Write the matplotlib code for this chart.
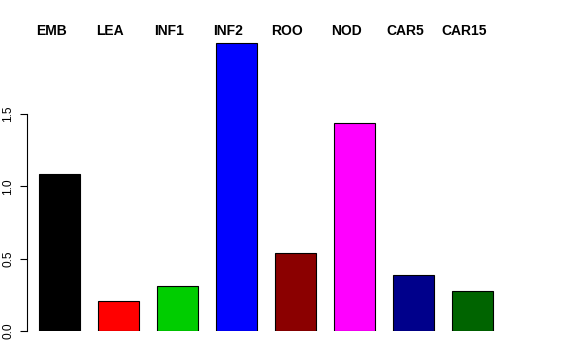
import numpy as np
import matplotlib
matplotlib.use("Agg")
import matplotlib.pyplot as plt

plt.rcParams['font.family'] = ['Liberation Sans', 'DejaVu Sans']

# Data
tissues = ["EMB", "LEA", "INF1", "INF2", "ROO", "NOD", "CAR5", "CAR15"]
values = [1.085, 0.207, 0.31, 1.99, 0.54, 1.437, 0.387, 0.276]
colors = ["#000000", "#FF0000", "#00CD00", "#0000FF",
          "#8B0000", "#FF00FF", "#00008B", "#006400"]
yticks = [0.0, 0.5, 1.0, 1.5]

W, H = 576, 360
fig = plt.figure(figsize=(W / 100, H / 100), dpi=100)

# axes placed in pixel terms: left edge 27px, right 530px, y=0 at 331px, y=2 at 41.6px
left, right, bottom, top = 27, 530, 331, 41.6
ax = fig.add_axes([left / W, (H - bottom) / H, (right - left) / W, (bottom - top) / H])

x = np.arange(len(tissues))
ax.bar(x, values, width=0.695, color=colors, edgecolor="black", linewidth=0.8)

ax.set_xlim((left - 59.5) / 59, (right - 59.5) / 59)
ax.set_ylim(0, 2.0)

for xi, name in zip(x, tissues):
    ax.text(xi - 0.14, 2.045, name, ha="center", va="baseline",
            fontsize=10, fontweight="bold")

for s in ["top", "right", "bottom"]:
    ax.spines[s].set_visible(False)
ax.spines["left"].set_bounds(0, 1.5)
ax.spines["left"].set_linewidth(0.8)
ax.set_xticks([])
ax.set_yticks(yticks)
ax.set_yticklabels(["0.0", "0.5", "1.0", "1.5"], rotation=90, va="center",
                   fontsize=8.6)
ax.tick_params(axis="y", length=5, width=0.8, pad=4)

fig.savefig("out.png", dpi=100)
